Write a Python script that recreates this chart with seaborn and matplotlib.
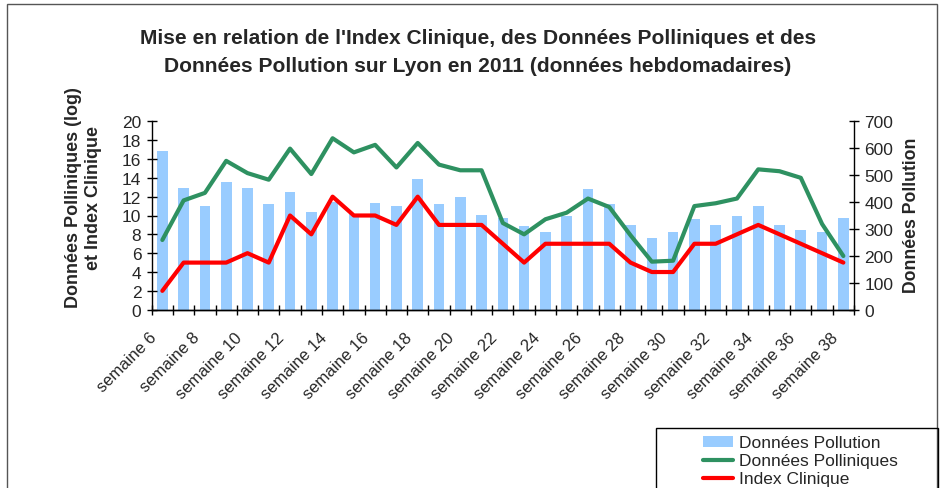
import matplotlib
matplotlib.use("Agg")
import matplotlib.pyplot as plt
from matplotlib.patches import Rectangle, Patch
from matplotlib.lines import Line2D
from matplotlib.ticker import FixedLocator
from matplotlib.transforms import ScaledTranslation
import numpy as np
import pandas as pd
import seaborn as sns

# weekly data, Lyon 2011 (weeks 6 to 38)
weeks = list(range(6, 39))
pollution = [589, 453, 387, 474, 453, 393, 438, 362, 400, 357, 397,
             387, 484, 393, 418, 352, 342, 312, 290, 347, 449, 393,
             314, 268, 290, 338, 316, 347, 387, 316, 297, 287, 342]
pollen = [7.4, 11.6, 12.4, 15.8, 14.5, 13.8, 17.1, 14.4, 18.2, 16.7, 17.5,
          15.1, 17.7, 15.4, 14.8, 14.8, 9.2, 8.0, 9.6, 10.3, 11.8, 10.9,
          7.9, 5.1, 5.2, 11.0, 11.3, 11.8, 14.9, 14.7, 14.0, 9.1, 5.7]
clinical = [2, 5, 5, 5, 6, 5, 10, 8, 12, 10, 10,
            9, 12, 9, 9, 9, 7, 5, 7, 7, 7, 7,
            5, 4, 4, 7, 7, 8, 9, 8, 7, 6, 5]
tick_weeks = weeks[::2]
tick_labels = [f"semaine {w}" for w in tick_weeks]

blue = '#99CCFF'
green = '#2E9161'
red = '#FF0000'

sns.set_theme(style="white")
plt.rcParams['font.family'] = ['Liberation Sans', 'DejaVu Sans']

df = pd.DataFrame({'semaine': weeks, 'pollution': pollution,
                   'pollen': pollen, 'clinique': clinical})

W, H = 940, 489
fig = plt.figure(figsize=(W / 100, H / 100), dpi=100)
ax = fig.add_axes([151.7 / W, 1 - 310.7 / H, (854 - 151.7) / W, (310.7 - 122.3) / H])
ax2 = ax.twinx()

sns.barplot(data=df, x='semaine', y='pollution', native_scale=True, width=0.5,
            color=blue, saturation=1, linewidth=0, ax=ax2)
sns.lineplot(data=df, x='semaine', y='pollen', color=green, lw=3, ax=ax)
sns.lineplot(data=df, x='semaine', y='clinique', color=red, lw=3, ax=ax)

ax.set_zorder(ax2.get_zorder() + 1)
ax.patch.set_visible(False)

ax.set_ylim(0, 20)
ax2.set_ylim(0, 700)
ax.set_xlim(5.5, 38.5)
ax.set_yticks(range(0, 21, 2))
ax2.set_yticks(range(0, 701, 100))
ax.set_xticks(tick_weeks)
ax.set_xticklabels(tick_labels, rotation=45, ha='right', va='center',
                   rotation_mode='anchor')
ax.xaxis.set_minor_locator(FixedLocator(np.arange(5.5, 39, 1)))

ax.tick_params(axis='x', which='major', length=0, labelsize=12, pad=18,
               bottom=True)
ax.tick_params(axis='x', which='minor', direction='inout', length=7,
               width=1, color='black', bottom=True)
ax.tick_params(axis='y', direction='inout', length=7, width=1,
               color='black', labelsize=12.5, left=True, pad=4)
ax2.tick_params(axis='y', direction='inout', length=7, width=1,
                color='black', labelsize=12.5, right=True, pad=4)

# nudge the rotated week labels to the left, as in the original
shift = ScaledTranslation(-0.08, 0, fig.dpi_scale_trans)
for lab in ax.get_xticklabels():
    lab.set_transform(lab.get_transform() + shift)

for a in (ax, ax2):
    a.set_xlabel('')
    a.set_ylabel('')
    a.spines['top'].set_visible(False)
    for s in a.spines.values():
        s.set_color('black')
        s.set_linewidth(1)
ax.spines['right'].set_visible(False)
ax2.spines['left'].set_visible(False)

fig.text(478 / W, 1 - 52.5 / H,
         "Mise en relation de l'Index Clinique, des Données Polliniques et des\n"
         "Données Pollution sur Lyon en 2011 (données hebdomadaires)",
         ha='center', va='center', fontsize=15.1, fontweight='bold',
         linespacing=1.65)
fig.text(83.5 / W, 1 - 198 / H, "Données Polliniques (log)\net Index Clinique",
         rotation=90, ha='center', va='center', fontsize=13,
         fontweight='bold', multialignment='center', linespacing=1.27)
fig.text(912 / W, 1 - 215 / H, "Données Pollution", rotation=90,
         ha='center', va='center', fontsize=12.7, fontweight='bold')

# chart frame and legend box
fig.add_artist(Rectangle((7 / W, -0.1), (936.5 - 7) / W, 1 - 5 / H + 0.1,
                         transform=fig.transFigure, fill=False,
                         edgecolor='#555555', lw=1))
fig.add_artist(Rectangle((655.5 / W, -0.1), (937.5 - 655.5) / W, 1 - 428.5 / H + 0.1,
                         transform=fig.transFigure, fill=False,
                         edgecolor='black', lw=1))

handles = [Patch(facecolor=blue, edgecolor='none'),
           Line2D([], [], color=green, lw=3),
           Line2D([], [], color=red, lw=3)]
fig.legend(handles, ['Données Pollution', 'Données Polliniques', 'Index Clinique'],
           loc='upper left', bbox_to_anchor=(703 / W, 1 - 436.5 / H),
           frameon=False, borderpad=0, borderaxespad=0, fontsize=12.5,
           handlelength=1.75, handletextpad=0.3, labelspacing=0.17,
           handleheight=0.6)

fig.savefig('out.png', dpi=100)
